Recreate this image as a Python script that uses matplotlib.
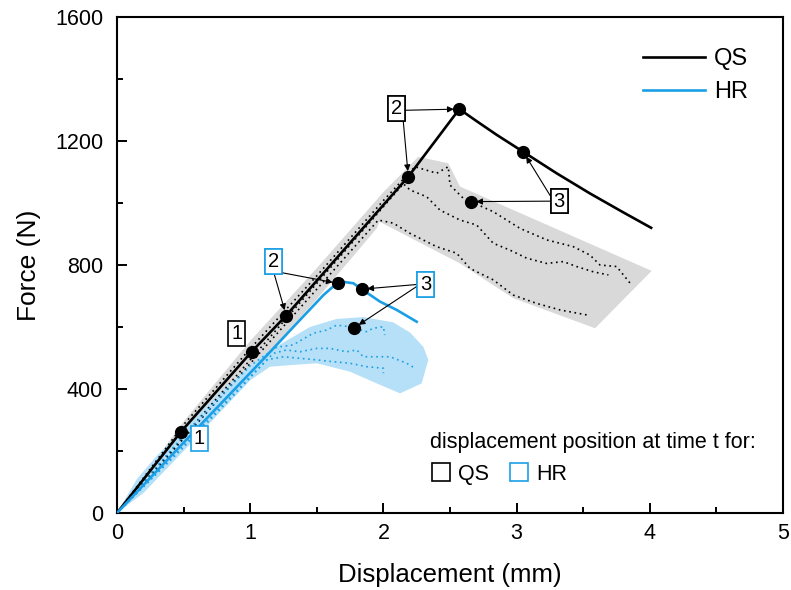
import numpy as np
import matplotlib
matplotlib.use("Agg")
import matplotlib.pyplot as plt
from matplotlib.lines import Line2D
from matplotlib.ticker import MultipleLocator

plt.rcParams["font.family"] = ["Liberation Sans", "DejaVu Sans"]

BLUE = "#1a9fe6"
BLUE_BAND = "#b5e0f8"
GRAY_BAND = "#d9d9d9"

# quasi-static (QS) reference curve
qs_x = [0, 0.48, 1.01, 1.27, 2.187, 2.57, 2.7, 2.85, 3.05, 3.3, 3.55, 3.8, 4.01]
qs_y = [0, 262, 520, 637, 1085, 1303, 1264, 1220, 1165, 1096, 1031, 970, 920]

# high-rate (HR) reference curve
hr_x = [0, 0.5, 1.1, 1.35, 1.55, 1.6, 1.65, 1.71, 1.775, 1.837, 1.974, 2.1, 2.25]
hr_y = [0, 227, 497, 612, 703, 722, 740, 745, 741, 722, 682, 655, 617]

# individual QS specimens
qs_a_x = [0, 0.5, 1.0, 1.5, 2.0, 2.237, 2.40, 2.487, 2.50, 2.60, 2.825, 3.026,
          3.226, 3.426, 3.551, 3.626, 3.751, 3.864]
qs_a_y = [0, 285, 530, 765, 1008, 1117, 1096, 1117, 1058, 1015, 972, 918,
          881, 859, 832, 800, 795, 735]
qs_b_x = [0, 2.15, 2.20, 2.325, 2.425, 2.575, 2.70, 2.825, 2.95, 3.076, 3.226,
          3.351, 3.451, 3.576, 3.689]
qs_b_y = [0, 1062, 1042, 1020, 977, 945, 929, 870, 848, 822, 805,
          811, 795, 778, 768]
qs_c_x = [0, 0.5, 1.0, 1.5, 1.962, 2.074, 2.20, 2.40, 2.55, 2.65, 2.825, 2.975,
          3.151, 3.326, 3.526]
qs_c_y = [0, 240, 482, 722, 945, 935, 902, 859, 838, 789, 752, 703,
          676, 655, 639]

# individual HR specimens
hr_a_x = [0, 0.5, 1.0, 1.2, 1.32, 1.474, 1.574, 1.649, 1.749, 1.874, 1.924, 2.0, 2.01]
hr_a_y = [0, 250, 475, 535, 542, 580, 590, 606, 601, 585, 596, 601, 574]
hr_b_x = [0, 0.5, 1.0, 1.174, 1.274, 1.374, 1.499, 1.599, 1.724, 1.80, 1.849,
          1.95, 2.05, 2.175, 2.237]
hr_b_y = [0, 218, 440, 515, 526, 520, 531, 531, 520, 526, 504,
          504, 504, 483, 467]
hr_c_x = [0, 0.5, 0.9, 1.124, 1.249, 1.374, 1.499, 1.624, 1.749, 1.874, 2.0, 2.0]
hr_c_y = [0, 212, 390, 494, 504, 499, 494, 488, 483, 472, 467, 451]

# scatter envelopes (outline traced counter-clockwise)
qs_env_x = [0, 0.5, 1.0, 1.5, 2.0, 2.262, 2.487, 2.575, 4.014,
            3.589, 2.975, 2.575, 1.97, 1.95, 1.5, 1.0, 0.5, 0]
qs_env_y = [0, 295, 555, 790, 1035, 1149, 1128, 1053, 781,
            596, 693, 805, 940, 918, 690, 452, 215, 0]
hr_env_x = [0, 0.15, 0.3, 0.5, 0.8, 1.1, 1.249, 1.449, 1.649, 1.849, 2.074, 2.2,
            2.30, 2.337, 2.287, 2.125, 1.95, 1.749, 1.5, 1.30, 1.149, 1.0, 0.5, 0.2, 0]
hr_env_y = [0, 110, 185, 268, 402, 512, 550, 600, 626, 632, 615, 582,
            536, 494, 418, 386, 418, 456, 483, 477, 472, 428, 200, 65, 0]

# displacement positions at times t1..t3
qs_t_x = [1.01, 2.187, 3.05]
hr_t_x = [0.48, 1.27]
hr_peak_x = [1.66, 1.837]
qs_a_t_x = 2.655
hr_a_t_x = 1.78

fig = plt.figure(figsize=(7.91, 5.90), dpi=100)
ax = fig.add_axes([117 / 791, 1 - 513 / 590, 666 / 791, 496 / 590])

ax.fill(qs_env_x, qs_env_y, color=GRAY_BAND, lw=0, zorder=1)
ax.fill(hr_env_x, hr_env_y, color=BLUE_BAND, lw=0, zorder=1.5)

dots = (0, (1, 2.2))
for xs, ys in [(qs_a_x, qs_a_y), (qs_b_x, qs_b_y), (qs_c_x, qs_c_y)]:
    ax.plot(xs, ys, color="black", lw=1.2, ls=dots, zorder=2)
for xs, ys in [(hr_a_x, hr_a_y), (hr_b_x, hr_b_y), (hr_c_x, hr_c_y)]:
    ax.plot(xs, ys, color=BLUE, lw=1.2, ls=dots, zorder=2)

ax.plot(qs_x, qs_y, color="black", lw=1.9, zorder=3, label="QS")
ax.plot(hr_x, hr_y, color=BLUE, lw=1.9, zorder=3, label="HR")

# markers on the curves
pts_x = list(qs_t_x) + list(hr_t_x) + [qs_x[5]]
pts_y = list(np.interp(pts_x, qs_x, qs_y))
pts_x += hr_peak_x + [qs_a_t_x, hr_a_t_x]
pts_y += list(np.interp(hr_peak_x, hr_x, hr_y))
pts_y += [np.interp(qs_a_t_x, qs_a_x, qs_a_y), np.interp(hr_a_t_x, hr_a_x, hr_a_y)]
ax.plot(pts_x, pts_y, "o", color="black", ms=8.5, zorder=4)


def tag(text, pos, color, targets=(), relpos=(0.5, 0.5)):
    box = dict(boxstyle="square,pad=0.14", fc="white", ec=color, lw=1.2)
    if not targets:
        ax.text(*pos, text, fontsize=14.5, ha="center", va="center", bbox=box, zorder=6)
        return
    for t in targets:
        ax.annotate(text, xy=t, xytext=pos, fontsize=14.5, ha="center", va="center",
                    bbox=box, zorder=6,
                    arrowprops=dict(arrowstyle="-|>", color="black", lw=0.8,
                                    mutation_scale=9, shrinkA=0, shrinkB=4,
                                    relpos=relpos))


qs_pts = lambda x: (x, float(np.interp(x, qs_x, qs_y)))
hr_pts = lambda x: (x, float(np.interp(x, hr_x, hr_y)))

tag("1", (0.898, 580), "black")
tag("1", (0.618, 241), BLUE)
tag("2", (2.10, 1305), "black", [qs_pts(qs_x[5]), qs_pts(qs_t_x[1])], relpos=(1, 0.4))
tag("2", (1.174, 811), BLUE, [qs_pts(hr_t_x[1]), hr_pts(hr_peak_x[0])], relpos=(0.5, 0))
tag("3", (3.32, 1006), "black",
    [qs_pts(qs_t_x[2]), (qs_a_t_x, float(np.interp(qs_a_t_x, qs_a_x, qs_a_y)))],
    relpos=(0, 0.5))
tag("3", (2.318, 738), BLUE,
    [hr_pts(hr_peak_x[1]), (hr_a_t_x, float(np.interp(hr_a_t_x, hr_a_x, hr_a_y)))],
    relpos=(0, 0.5))

ax.set_xlim(0, 5)
ax.set_ylim(0, 1600)
ax.xaxis.set_major_locator(MultipleLocator(1))
ax.xaxis.set_minor_locator(MultipleLocator(0.5))
ax.yaxis.set_major_locator(MultipleLocator(400))
ax.yaxis.set_minor_locator(MultipleLocator(200))
ax.tick_params(which="both", direction="in", width=1.4, labelsize=15.5)
ax.tick_params(axis="x", pad=7)
ax.tick_params(axis="y", pad=10)
ax.tick_params(which="major", length=7.5)
ax.tick_params(which="minor", length=4)
for s in ax.spines.values():
    s.set_linewidth(1.5)

ax.set_xlabel("Displacement (mm)", fontsize=18.5, labelpad=14)
ax.set_ylabel("Force (N)", fontsize=19, labelpad=10)

leg1 = ax.legend(loc="upper right", bbox_to_anchor=(0.98, 0.98), frameon=False,
                 fontsize=17, handlelength=2.6, handletextpad=0.4, labelspacing=0.45)
ax.add_artist(leg1)

sq = dict(marker="s", ls="none", mfc="none", ms=13.5, mew=1.2)
handles = [Line2D([], [], mec="black", **sq), Line2D([], [], mec=BLUE, **sq)]
leg2 = ax.legend(handles, ["QS", "HR"], loc="lower right", bbox_to_anchor=(0.972, 0.04),
                 ncol=2, frameon=False, fontsize=15.5, title="displacement position at time t for:",
                 title_fontsize=15.5, alignment="left", handlelength=1.0,
                 handletextpad=0.3, columnspacing=0.9, borderaxespad=0)

fig.savefig("out.png", dpi=100)
